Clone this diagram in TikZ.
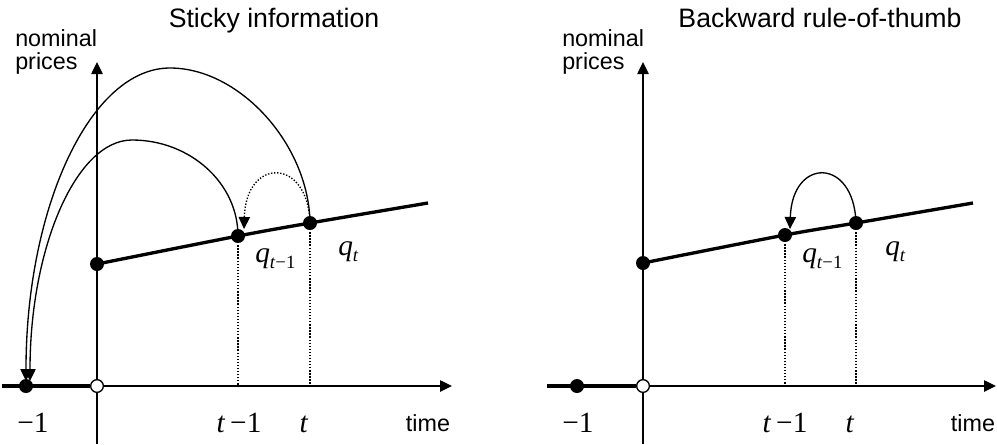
\documentclass[tikz,border=0pt]{standalone}
\usepackage{fontspec}
\setmainfont{Liberation Serif}
\setsansfont{Liberation Sans}
\usetikzlibrary{arrows.meta}
\newcommand\qsub[1]{\textit{q}\raisebox{-4.5pt}{\fontsize{14}{14}\selectfont #1}}
\begin{document}
\begin{tikzpicture}[x=0.75pt,y=-0.75pt,
  thinline/.style={line width=1pt},
  thickline/.style={line width=2.5pt},
  axisline/.style={line width=1.1pt},
  drop/.style={line width=1pt, dash pattern=on 1pt off 1.3pt},
  tip/.style={-{Triangle[length=9pt,width=8.5pt]}},
  dot/.style={circle, fill=black, minimum size=10.5pt, inner sep=0pt},
  odot/.style={circle, fill=white, draw=black, line width=1pt, minimum size=9.5pt, inner sep=0pt},
  ttl/.style={font=\sffamily\fontsize{20}{24}\selectfont, anchor=base, inner sep=0pt},
  lab/.style={font=\sffamily\fontsize{17.5}{20}\selectfont, anchor=base west, inner sep=0pt},
  timelab/.style={font=\sffamily\fontsize{17.5}{20}\selectfont, anchor=base, inner sep=0pt},
  ticklab/.style={font=\fontsize{22}{24}\selectfont, anchor=base, inner sep=0pt},
  qlab/.style={font=\fontsize{22}{24}\selectfont, anchor=base west, inner sep=0pt},
  ]
\useasboundingbox (0,0) rectangle (997,444);

% ---------------- left panel ----------------
\coordinate (LO) at (97,386);
\coordinate (LxS) at (2,386);
\coordinate (LxE) at (452,386);
\coordinate (LyS) at (97,444);
\coordinate (LyE) at (97,62);
\coordinate (LtmB) at (238,386);
\coordinate (LtB) at (310,386);
\coordinate (Lend) at (428,203);
\coordinate (LarA) at (26,381);
\coordinate (LarB) at (30,381);
\coordinate (Ltip) at (244,229);
\coordinate (Ltop1) at (170,68);
\coordinate (Ltop2) at (132,140);

\node[odot] (Ldo) at (LO) {};
\node[dot] (Ldm) at (26,386) {};
\node[dot] (Ld0) at (97,264) {};
\node[dot] (Ld1) at (238,236) {};
\node[dot] (Ld2) at (310,223) {};

\draw[axisline] (LyS) -- (Ldo.south);
\draw[axisline,tip] (Ldo.north) -- (LyE);
\draw[axisline,tip] (Ldo.east) -- (LxE);
\draw[thickline] (LxS) -- (Ldo.west);
\draw[thickline] plot[smooth] coordinates {(Ld0.center) (Ld1.center) (Ld2.center) (Lend)};
\draw[drop] (Ld1.center) -- (LtmB);
\draw[drop] (Ld2.center) -- (LtB);
\draw[thinline,tip] (Ld2.center) .. controls (309,145) and (240,68) .. (Ltop1)
  .. controls (90,68) and (26,208) .. (LarA);
\draw[thinline,tip] (Ld1.center) .. controls (238,183) and (190,140) .. (Ltop2)
  .. controls (76,140) and (30,248) .. (LarB);
\draw[drop,tip] (Ld2.center) .. controls (308,157) and (246,157) .. (Ltip);

\node[ttl] (Lttl) at (274,27.5) {Sticky information};
\node[lab] (Lnom) at (15,46) {nominal};
\node[lab] (Lpri) at (15,69) {prices};
\node[ticklab] (Lm1) at (33,432) {−1};
\node[ticklab] (Ltm1) at (239,432) {\textit{t}\,−1};
\node[ticklab] (Lt1) at (304,432) {\textit{t}};
\node[timelab] (Ltime) at (428,431) {time};
\node[qlab] (Lq1) at (255,262) {\qsub{\textit{t}−1}};
\node[qlab] (Lq2) at (338,255) {\qsub{\textit{t}}};

% ---------------- right panel ----------------
\coordinate (RO) at (643,386);
\coordinate (RxS) at (547,386);
\coordinate (RxE) at (996,386);
\coordinate (RyS) at (643,444);
\coordinate (RyE) at (643,62);
\coordinate (RtmB) at (785,386);
\coordinate (RtB) at (856,386);
\coordinate (Rend) at (973,203);
\coordinate (Rtip) at (790,229);

\node[odot] (Rdo) at (RO) {};
\node[dot] (Rdm) at (577,386) {};
\node[dot] (Rd0) at (643,263) {};
\node[dot] (Rd1) at (785,235) {};
\node[dot] (Rd2) at (856,223) {};

\draw[axisline] (RyS) -- (Rdo.south);
\draw[axisline,tip] (Rdo.north) -- (RyE);
\draw[axisline,tip] (Rdo.east) -- (RxE);
\draw[thickline] (RxS) -- (Rdo.west);
\draw[thickline] plot[smooth] coordinates {(Rd0.center) (Rd1.center) (Rd2.center) (Rend)};
\draw[drop] (Rd1.center) -- (RtmB);
\draw[drop] (Rd2.center) -- (RtB);
\draw[thinline,tip] (Rd2.center) .. controls (854,157) and (792,157) .. (Rtip);

\node[ttl] (Rttl) at (820,27.5) {Backward rule-of-thumb};
\node[lab] (Rnom) at (562,46) {nominal};
\node[lab] (Rpri) at (562,69) {prices};
\node[ticklab] (Rm1) at (578,432) {−1};
\node[ticklab] (Rtm1) at (785,432) {\textit{t}\,−1};
\node[ticklab] (Rt1) at (850,432) {\textit{t}};
\node[timelab] (Rtime) at (973,431) {time};
\node[qlab] (Rq1) at (802,262) {\qsub{\textit{t}−1}};
\node[qlab] (Rq2) at (885,255) {\qsub{\textit{t}}};
\end{tikzpicture}
\end{document}
